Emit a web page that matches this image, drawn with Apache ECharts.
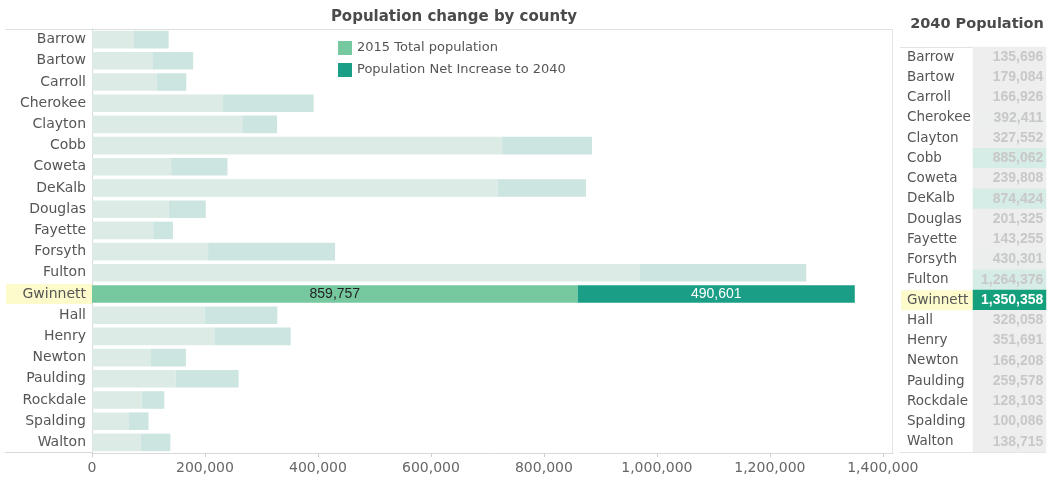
<!DOCTYPE html>
<html>
<head>
<meta charset="utf-8">
<script src="https://cdn.jsdelivr.net/npm/echarts@6/dist/echarts.min.js"></script>
<style>
  html, body { margin: 0; padding: 0; background: #fff; }
  #chart { width: 1048px; height: 478px; }
</style>
</head>
<body>
<div id="chart"></div>
<script>
const counties = ['Barrow','Bartow','Carroll','Cherokee','Clayton','Cobb','Coweta','DeKalb','Douglas','Fayette','Forsyth','Fulton','Gwinnett','Hall','Henry','Newton','Paulding','Rockdale','Spalding','Walton'];
const pop2015 = [74000,108000,114500,232000,266000,726000,140000,718000,136000,108500,205500,969000,859757,199000,216500,104500,148000,88000,65500,86000];
const pop2040 = [135696,179084,166926,392411,327552,885062,239808,874424,201325,143255,430301,1264376,1350358,328058,351691,166208,259578,128103,100086,138715];
const xTicks = [0,200000,400000,600000,800000,1000000,1200000,1400000];
const highlight = 'Gwinnett';
const legendNames = ['2015 Total population','Population Net Increase to 2040'];

const fmt = v => Math.round(v).toLocaleString('en-US');
const FONT = 'DejaVu Sans';

function lerpColor(a, b, t) {
  const pa = [1,3,5].map(i => parseInt(a.substr(i,2),16));
  const pb = [1,3,5].map(i => parseInt(b.substr(i,2),16));
  return 'rgb(' + pa.map((c,i) => Math.round(c + (pb[i]-c)*t)).join(',') + ')';
}
function cellColor(v) {
  const t = Math.max(0, Math.min(1, (v - 370000) / 500000));
  return lerpColor('#eeeeee', '#d6ece6', t);
}

const baseData = counties.map((c, i) => {
  const hl = c === highlight;
  return {
    value: pop2015[i],
    itemStyle: { color: hl ? '#76c99f' : '#dcebe5' },
    label: { show: hl, formatter: p => fmt(p.value), color: '#222', fontSize: 14, fontFamily: 'Liberation Sans' }
  };
});
const incData = counties.map((c, i) => {
  const hl = c === highlight;
  return {
    value: pop2040[i] - pop2015[i],
    itemStyle: { color: hl ? '#1b9e86' : '#cce5e0' },
    label: { show: hl, formatter: p => fmt(p.value), color: '#fff', fontSize: 14, fontFamily: 'Liberation Sans' }
  };
});
const tableData = counties.map((c, i) => {
  const hl = c === highlight;
  return {
    value: [0, i, pop2040[i]],
    itemStyle: { color: hl ? '#14a07c' : cellColor(pop2040[i]) },
    label: { color: hl ? '#fff' : '#c8c8c8' }
  };
});

const chart = echarts.init(document.getElementById('chart'), null, { renderer: 'canvas' });
chart.setOption({
  animation: false,
  backgroundColor: '#fff',
  textStyle: { fontFamily: FONT },
  title: [
    { text: 'Population change by county', left: 449, top: 5, textAlign: 'center',
      textStyle: { fontFamily: FONT, fontSize: 15, fontWeight: 'bold', color: '#4a4a4a' } },
    { text: '2040 Population', left: 972, top: 12, textAlign: 'center',
      textStyle: { fontFamily: FONT, fontSize: 14.5, fontWeight: 'bold', color: '#4a4a4a' } }
  ],
  legend: {
    orient: 'vertical', left: 333, top: 36, itemWidth: 14, itemHeight: 14, itemGap: 8,
    icon: 'rect', selectedMode: false,
    textStyle: { fontFamily: FONT, fontSize: 13, color: '#555' },
    data: [
      { name: legendNames[0], itemStyle: { color: '#76c99f' } },
      { name: legendNames[1], itemStyle: { color: '#1b9e86' } }
    ]
  },
  grid: [
    { left: 92, right: 155, top: 29, bottom: 25 },
    { left: 973, width: 73, top: 47, height: 405 }
  ],
  xAxis: [
    { gridIndex: 0, type: 'value', min: xTicks[0], max: 1418000, interval: xTicks[1] - xTicks[0],
      axisLine: { show: true, lineStyle: { color: '#d9d9d9' } },
      axisTick: { show: true, length: 4, lineStyle: { color: '#cfcfcf' } },
      splitLine: { show: false },
      axisLabel: { showMaxLabel: false, margin: 8, color: '#666', fontSize: 14, fontFamily: FONT, formatter: v => fmt(v) } },
    { gridIndex: 1, type: 'category', data: ['2040'], show: false }
  ],
  yAxis: [
    { gridIndex: 0, type: 'category', data: counties, inverse: true,
      axisLine: { show: true, lineStyle: { color: '#d9d9d9' } },
      axisTick: { show: false },
      axisLabel: { margin: 0, formatter: v => (v === highlight ? '{hl|' + v + '}' : '{n|' + v + '}'),
        rich: {
          n: { width: 80, align: 'right', padding: [0, 6, 0, 0], fontSize: 14, fontFamily: FONT, color: '#555' },
          hl: { width: 80, align: 'right', padding: [0, 6, 0, 0], height: 20, lineHeight: 20, backgroundColor: '#fdfbcb', fontSize: 14, fontFamily: FONT, color: '#555' }
        } } },
    { gridIndex: 1, type: 'category', data: counties, inverse: true,
      axisLine: { show: false }, axisTick: { show: false },
      axisLabel: { margin: 72, align: 'left', formatter: v => (v === highlight ? '{hl|' + v + '}' : '{n|' + v + '}'),
        rich: {
          n: { width: 66, align: 'left', padding: [0, 0, 0, 6], fontSize: 13.5, fontFamily: FONT, color: '#555' },
          hl: { width: 66, align: 'left', padding: [0, 0, 0, 6], height: 20, lineHeight: 20, backgroundColor: '#fdfbcb', fontSize: 13.5, fontFamily: FONT, color: '#555' }
        } } }
  ],
  series: [
    { name: legendNames[0], type: 'bar', stack: 'pop', xAxisIndex: 0, yAxisIndex: 0,
      barCategoryGap: '17%', data: baseData,
      label: { position: 'inside' }, emphasis: { disabled: true } },
    { name: legendNames[1], type: 'bar', stack: 'pop', xAxisIndex: 0, yAxisIndex: 0,
      barCategoryGap: '17%', data: incData,
      label: { position: 'inside' }, emphasis: { disabled: true } },
    { name: '2040', type: 'heatmap', xAxisIndex: 1, yAxisIndex: 1, data: tableData,
      label: { show: true, position: 'insideRight', distance: 3, formatter: p => fmt(p.value[2]),
        fontFamily: 'Liberation Sans', fontWeight: 'bold', fontSize: 14 },
      emphasis: { disabled: true } }
  ],
  graphic: [
    { type: 'line', shape: { x1: 5, y1: 29.5, x2: 893, y2: 29.5 }, style: { stroke: '#e0e0e0', lineWidth: 1 }, silent: true },
    { type: 'line', shape: { x1: 5, y1: 452.5, x2: 92, y2: 452.5 }, style: { stroke: '#d9d9d9', lineWidth: 1 }, silent: true },
    { type: 'line', shape: { x1: 892.5, y1: 29, x2: 892.5, y2: 453 }, style: { stroke: '#e3e3e3', lineWidth: 1 }, silent: true },
    { type: 'line', shape: { x1: 900, y1: 47.5, x2: 1046, y2: 47.5 }, style: { stroke: '#e3e3e3', lineWidth: 1 }, silent: true },
    { type: 'line', shape: { x1: 900, y1: 452.5, x2: 1046, y2: 452.5 }, style: { stroke: '#e3e3e3', lineWidth: 1 }, silent: true }
  ]
});
</script>
</body>
</html>
